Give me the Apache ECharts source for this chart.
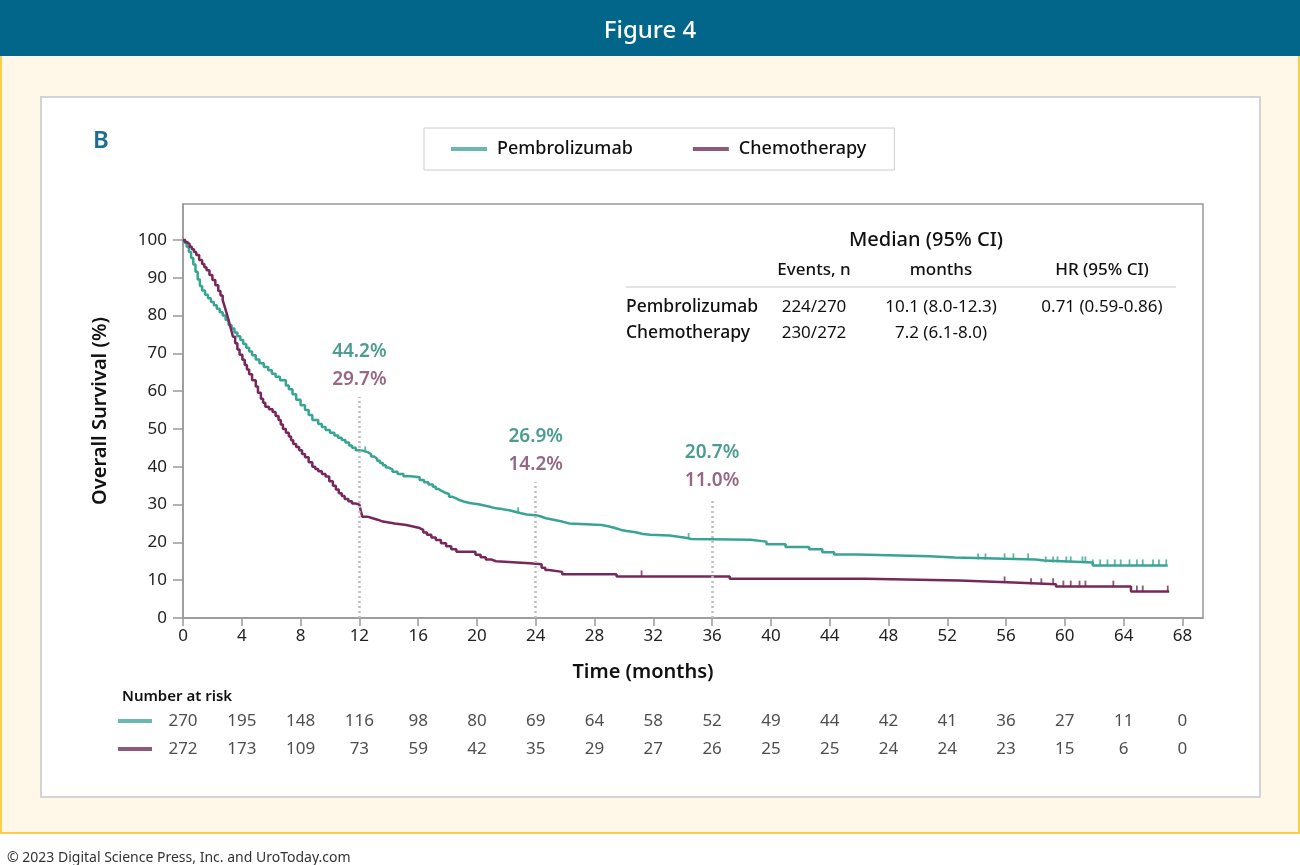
<!DOCTYPE html>
<html>
<head>
<meta charset="utf-8">
<script src="https://cdn.jsdelivr.net/npm/echarts@6/dist/echarts.min.js"></script>
<style>
html,body{margin:0;padding:0;background:#ffffff;width:1300px;height:865px;overflow:hidden;}
#bar{position:absolute;left:0;top:0;width:1300px;height:56px;background:#02668b;}
#cream{position:absolute;left:0;top:56px;width:1300px;height:778px;background:#fff8e8;border:2px solid #f6cf4c;border-top:none;box-sizing:border-box;}
#panel{position:absolute;left:40px;top:96px;width:1221px;height:702px;background:#ffffff;border:2px solid #d4d4d4;box-sizing:border-box;}
#chart{position:absolute;left:0;top:0;width:1300px;height:865px;}
</style>
</head>
<body>
<div id="bar"></div>
<div id="cream"></div>
<div id="panel"></div>
<div id="chart"></div>
<script>
// ---------- data ----------
var seriesNames = ['Pembrolizumab', 'Chemotherapy'];
// Kaplan-Meier steps [time (months), survival %]
var pembroCurve = [
  [0,100],[0.1,99.3],[0.25,98.2],[0.4,96.8],[0.55,95.2],[0.7,93.5],[0.85,91.6],[1.0,89.5],[1.15,87.8],[1.3,86.6],
  [1.5,85.5],[1.7,84.6],[1.9,83.6],[2.1,82.7],[2.3,81.8],[2.5,80.9],[2.7,80.0],[2.9,78.8],[3.1,77.5],[3.3,76.6],
  [3.5,75.5],[3.7,74.5],[3.9,73.5],[4.1,72.5],[4.3,71.5],[4.5,70.5],[4.7,69.5],[4.95,68.4],[5.2,67.4],[5.5,66.4],
  [5.8,65.5],[6.05,64.6],[6.3,63.8],[6.6,62.9],[7.0,61.5],[7.2,60.5],[7.45,59.2],[7.7,57.7],[8.0,56.3],[8.3,55.0],
  [8.55,53.7],[8.8,52.4],[9.2,51.3],[9.45,50.5],[9.7,49.7],[10.0,49.0],[10.3,48.3],[10.55,47.7],[10.8,47.1],[11.05,46.4],
  [11.3,45.6],[11.5,45.0],[11.75,44.4],[12.0,44.2],[12.3,43.8],[12.6,43.3],[12.8,42.7],[13.0,42.2],[13.2,41.6],[13.4,41.0],
  [13.6,40.4],[13.8,39.8],[14.0,39.3],[14.25,38.7],[14.6,38.1],[15.0,37.5],[15.5,37.2],[16.1,36.5],[16.4,35.9],[16.7,35.3],
  [17.0,34.7],[17.2,34.1],[17.4,33.6],[17.6,33.2],[17.8,32.8],[18.1,32.1],[18.3,31.7],[18.55,31.2],[18.8,30.8],[19.1,30.4],
  [19.5,30.0],[20.2,29.5],[20.8,29.0],[21.3,28.8],[21.7,28.5],[22.2,28.1],[22.6,27.7],[23.0,27.4],[23.4,27.2],[24.0,26.9],
  [24.3,26.4],[24.7,26.0],[25.2,25.5],[25.8,25.0],[26.3,24.6],[28.5,24.2],[29.0,23.8],[29.4,23.3],[29.8,23.0],[30.2,22.7],
  [30.8,22.2],[31.3,22.0],[31.8,21.8],[33.1,21.5],[33.7,21.2],[34.2,20.9],[34.6,20.7],[38.6,20.2],[39.7,19.5],[41.0,18.8],
  [42.6,18.2],[43.5,17.4],[44.3,16.8],[45.9,16.3],[50.8,16.0],[52.5,15.5],[58.0,15.2],[58.6,14.7],[61.9,13.9],[67.0,13.9]
];
var chemoCurve = [
  [0,100],[0.15,99.4],[0.3,98.9],[0.45,98.2],[0.6,97.5],[0.75,96.8],[0.9,96.0],[1.1,94.7],[1.3,93.6],[1.45,92.8],
  [1.6,92.0],[1.8,90.7],[2.0,89.4],[2.2,88.0],[2.4,86.5],[2.55,85.3],[2.7,84.1],[2.8,82.8],[2.9,81.5],[3.0,80.2],
  [3.1,78.8],[3.2,77.3],[3.3,75.9],[3.4,74.4],[3.55,72.7],[3.7,71.0],[3.85,69.6],[4.04,68.3],[4.2,66.9],[4.35,65.7],
  [4.5,64.5],[4.7,62.9],[4.95,61.2],[5.1,59.6],[5.3,58.0],[5.45,56.9],[5.6,55.9],[5.85,55.2],[6.1,54.5],[6.3,53.4],
  [6.5,52.4],[6.65,51.2],[6.8,50.0],[7.0,49.0],[7.2,48.0],[7.35,47.0],[7.5,46.0],[7.7,45.2],[7.9,44.4],[8.1,43.4],
  [8.3,42.5],[8.55,41.2],[8.8,40.0],[9.0,39.4],[9.2,38.8],[9.45,38.1],[9.7,37.4],[9.95,36.2],[10.2,35.0],[10.4,34.0],
  [10.6,33.0],[10.8,32.3],[11.0,31.5],[11.25,30.9],[11.5,30.3],[11.75,30.0],[12.0,29.7],[12.1,28.3],[12.2,26.8],[12.55,26.4],
  [12.9,26.0],[13.25,25.5],[13.6,25.0],[14.4,24.6],[15.2,24.2],[15.65,23.8],[16.1,23.3],[16.35,22.6],[16.6,22.0],[16.9,21.3],
  [17.2,20.6],[17.55,19.8],[17.9,19.0],[18.25,18.2],[18.6,17.5],[19.9,16.7],[20.25,16.1],[20.6,15.5],[20.95,15.0],[21.3,14.5],
  [23.6,14.2],[24.4,13.3],[24.65,12.7],[24.9,12.2],[25.8,11.6],[29.5,11.0],[37.2,10.4],[46.4,9.9],[52.8,9.4],[56.5,8.9],
  [59.4,8.3],[64.5,7.0],[67.1,7.0]
];
// censoring marks (months)
var pembroCensor = [12.4,22.8,34.4,54.1,54.6,55.9,56.5,57.5,58.7,59.2,59.5,60.1,60.4,61.2,61.4,61.9,62.4,62.9,63.4,63.8,64.4,64.9,65.3,66.0,66.4,66.9];
var chemoCensor = [31.2,55.9,57.7,58.4,59.2,59.9,60.4,61.0,61.4,63.3,64.9,65.3,67.0];
// landmark annotations
var landmarkTimes = [12, 24, 36];
var landmarkPembro = ['44.2%', '26.9%', '20.7%'];
var landmarkChemo = ['29.7%', '14.2%', '11.0%'];
var landmarkGuideTop = [58.5, 36, 31.7];
// axis ticks
var xTicks = [0,4,8,12,16,20,24,28,32,36,40,44,48,52,56,60,64,68];
var yTicks = [0,10,20,30,40,50,60,70,80,90,100];
// number at risk
var riskPembro = [270,195,148,116,98,80,69,64,58,52,49,44,42,41,36,27,11,0];
var riskChemo  = [272,173,109,73,59,42,35,29,27,26,25,25,24,24,23,15,6,0];
// median table
var tableTitle = 'Median (95% CI)';
var tableHeader = ['Events, n', 'months', 'HR (95% CI)'];
var tableRows = [
  ['Pembrolizumab', '224/270', '10.1 (8.0-12.3)', '0.71 (0.59-0.86)'],
  ['Chemotherapy', '230/272', '7.2 (6.1-8.0)', '']
];

// ---------- helpers ----------
var FONT = 'Noto Sans';
var TEAL = '#38a593', TEAL_LEG = '#6bb9ae', TEAL_TXT = '#1d8574';
var PURP = '#76285a', PURP_LEG = '#8c5a78', PURP_TXT = '#7c4265';
function survAt(curve, t) {
  var v = curve[0][1];
  for (var i = 0; i < curve.length; i++) { if (curve[i][0] <= t) v = curve[i][1]; }
  return v;
}
function censorData(curve, times) { return times.map(function (t) { return [t, survAt(curve, t)]; }); }
function riskData(arr, row) { return arr.map(function (n, i) { return [xTicks[i], row, n]; }); }

var chart = echarts.init(document.getElementById('chart'), null, {renderer: 'canvas'});

var graphics = [];
graphics.push({type:'text', x:926, y:240, style:{text:tableTitle, font:'500 20px "' + FONT + '"', fill:'#111', align:'center', verticalAlign:'middle'}});
var colX = [814, 941, 1102];
tableHeader.forEach(function (h, i) {
  graphics.push({type:'text', x: colX[i], y: 270, style:{text:h, font:'500 17px "' + FONT + '"', fill:'#111', align:'center', verticalAlign:'middle'}});
});
graphics.push({type:'line', shape:{x1:626, y1:287, x2:1176, y2:287}, style:{stroke:'#c8c8c8', lineWidth:1}});
tableRows.forEach(function (r, ri) {
  var y = 307 + ri * 26;
  graphics.push({type:'text', x: 626, y: y, style:{text:r[0], font:'500 17.5px "' + FONT + '"', fill:'#111', align:'left', verticalAlign:'middle'}});
  for (var c = 1; c < 4; c++) {
    if (!r[c]) continue;
    graphics.push({type:'text', x: colX[c - 1], y: y, style:{text:r[c], font:'17px "' + FONT + '"', fill:'#111', align:'center', verticalAlign:'middle'}});
  }
});
graphics.push({type:'line', shape:{x1:118, y1:721, x2:152, y2:721}, style:{stroke:TEAL_LEG, lineWidth:4}});
graphics.push({type:'line', shape:{x1:118, y1:749, x2:152, y2:749}, style:{stroke:PURP_LEG, lineWidth:4}});

var option = {
  animation: false,
  textStyle: {fontFamily: FONT},
  title: [
    {text: 'Figure 4', left: 'center', top: 14, textStyle: {color: '#ffffff', fontSize: 24, fontWeight: 500, fontFamily: FONT}},
    {text: 'B', left: 88, top: 124, textStyle: {color: '#1b6d93', fontSize: 24, fontWeight: 600, fontFamily: FONT}},
    {text: 'Number at risk', left: 117, top: 684, textStyle: {color: '#111', fontSize: 15, fontWeight: 600, fontFamily: FONT}},
    {text: '\u00a9 2023 Digital Science Press, Inc. and UroToday.com', left: 2, top: 846, textStyle: {color: '#333', fontSize: 14, fontWeight: 'normal', fontFamily: FONT}}
  ],
  legend: {
    data: seriesNames,
    left: 424, top: 128,
    padding: [12, 28, 12, 27],
    itemGap: 60,
    itemWidth: 36, itemHeight: 4,
    icon: 'rect',
    borderColor: '#cccccc', borderWidth: 1,
    textStyle: {fontSize: 18, color: '#111', fontWeight: 500, fontFamily: FONT, padding: [0, 0, 0, 5]}
  },
  grid: [
    {left: 183, right: 97, top: 204, bottom: 247, show: true, borderColor: '#999', borderWidth: 1.5},
    {left: 183, right: 97, top: 707, height: 56, show: false}
  ],
  xAxis: [
    {
      type: 'value', gridIndex: 0, min: 0, max: 69.4,
      name: 'Time (months)', nameLocation: 'middle', nameGap: 44,
      nameTextStyle: {fontSize: 20, fontWeight: 600, color: '#111', padding: [0, 100, 0, 0]},
      axisLine: {show: true, lineStyle: {color: '#999', width: 1.5}},
      axisTick: {show: true, length: 8, customValues: xTicks, lineStyle: {color: '#999', width: 1.5}},
      axisLabel: {customValues: xTicks, fontSize: 17, color: '#222', margin: 10},
      splitLine: {show: false}
    },
    {type: 'value', gridIndex: 1, min: 0, max: 69.4, show: false}
  ],
  yAxis: [
    {
      type: 'value', gridIndex: 0, min: 0, max: 109.5,
      name: 'Overall Survival (%)', nameLocation: 'middle', nameGap: 73,
      nameTextStyle: {fontSize: 20, fontWeight: 600, color: '#111'},
      axisLine: {show: true, lineStyle: {color: '#999', width: 1.5}},
      axisTick: {show: true, length: 10, customValues: yTicks, lineStyle: {color: '#999', width: 1.5}},
      axisLabel: {customValues: yTicks, fontSize: 17, color: '#222', margin: 16},
      splitLine: {show: false}
    },
    {type: 'category', gridIndex: 1, data: ['Pembro', 'Chemo'], inverse: true, show: false}
  ],
  graphic: graphics,
  series: [
    {
      name: 'guides', type: 'line', xAxisIndex: 0, yAxisIndex: 0, data: [], silent: true,
      markLine: {
        symbol: 'none', silent: true, label: {show: false},
        lineStyle: {color: '#bdbdbd', type: [2, 3], width: 2.5},
        data: landmarkTimes.map(function (t, i) { return [{coord: [t, 0]}, {coord: [t, landmarkGuideTop[i]]}]; })
      }
    },
    {
      name: seriesNames[0], type: 'line', step: 'end', showSymbol: false, data: pembroCurve,
      color: TEAL_LEG,
      lineStyle: {color: TEAL, width: 2.5}, z: 3, silent: true
    },
    {
      name: seriesNames[1], type: 'line', step: 'end', showSymbol: false, data: chemoCurve,
      color: PURP_LEG,
      lineStyle: {color: PURP, width: 2.5}, z: 3, silent: true
    },
    {
      name: 'pembroCensor', type: 'scatter', data: censorData(pembroCurve, pembroCensor),
      symbol: 'rect', symbolSize: [1.8, 6], symbolOffset: [0, -3], itemStyle: {color: TEAL}, z: 4, silent: true
    },
    {
      name: 'chemoCensor', type: 'scatter', data: censorData(chemoCurve, chemoCensor),
      symbol: 'rect', symbolSize: [1.8, 6], symbolOffset: [0, -3], itemStyle: {color: PURP}, z: 4, silent: true
    },
    {
      name: 'landmarks', type: 'scatter', silent: true, symbolSize: 1, itemStyle: {color: 'transparent'},
      data: landmarkTimes.map(function (t, i) { return [t, landmarkGuideTop[i], landmarkPembro[i], landmarkChemo[i]]; }),
      label: {
        show: true, position: 'top', distance: 3,
        formatter: function (p) { return '{a|' + p.value[2] + '}\n{b|' + p.value[3] + '}'; },
        rich: {
          a: {color: TEAL_TXT, fontSize: 19, fontWeight: 600, lineHeight: 28, fontFamily: FONT},
          b: {color: PURP_TXT, fontSize: 19, fontWeight: 600, lineHeight: 28, fontFamily: FONT}
        }
      }
    },
    {
      name: 'riskPembro', type: 'scatter', xAxisIndex: 1, yAxisIndex: 1, silent: true, symbolSize: 1,
      itemStyle: {color: 'transparent'}, data: riskData(riskPembro, 'Pembro'),
      label: {show: true, position: 'inside', formatter: function (p) { return p.value[2]; }, fontSize: 17, color: '#222', fontFamily: FONT}
    },
    {
      name: 'riskChemo', type: 'scatter', xAxisIndex: 1, yAxisIndex: 1, silent: true, symbolSize: 1,
      itemStyle: {color: 'transparent'}, data: riskData(riskChemo, 'Chemo'),
      label: {show: true, position: 'inside', formatter: function (p) { return p.value[2]; }, fontSize: 17, color: '#222', fontFamily: FONT}
    }
  ]
};
chart.setOption(option);
</script>
</body>
</html>
